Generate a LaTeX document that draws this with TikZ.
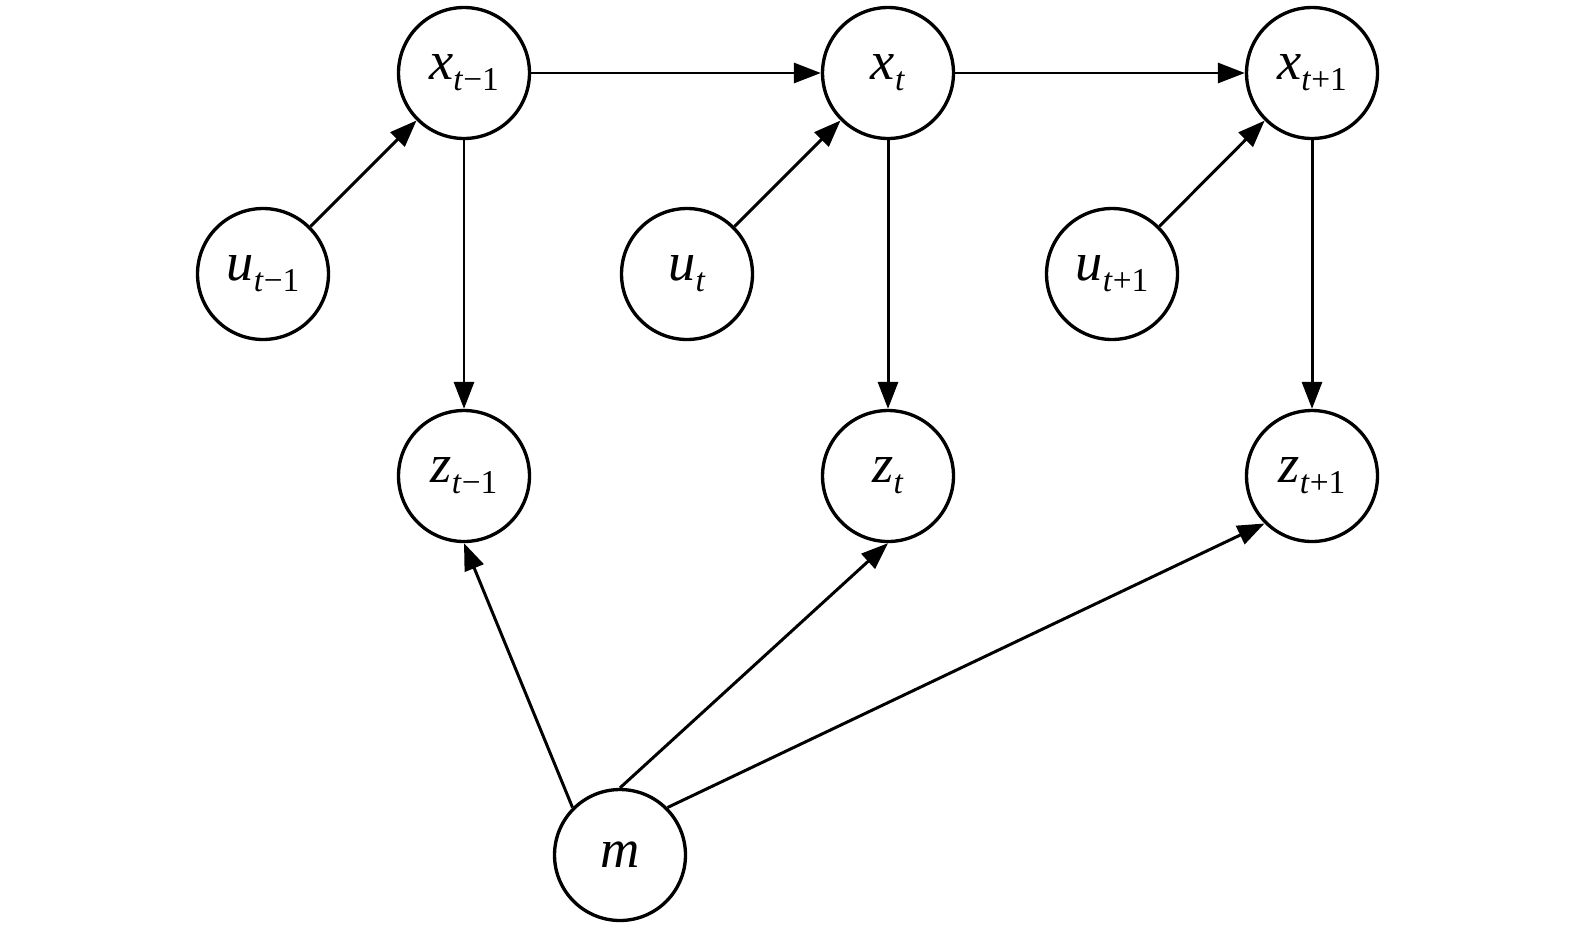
\documentclass[tikz,border=0pt]{standalone}
\usepackage{fontspec}
\setmainfont{Liberation Serif}
\usetikzlibrary{arrows.meta}

\newcommand{\nodevar}[2]{\textit{#1}\raisebox{-0.22cm}{\fontsize{19}{21}\selectfont\textit{t}#2}}

\begin{document}
\begin{tikzpicture}
            [x=0.02cm, y=-0.02cm,
            node/.style={circle, draw, minimum size=2.62cm, inner sep=0pt, line width=1.9pt, font=\fontsize{31}{33}\selectfont},
            edge/.style={line width=1.7pt, black, -{Triangle[length=0.54cm, width=0.4cm]}}]

            \useasboundingbox (0,0) rectangle (1575,927);

            \node[node] (x1) at (464,73) {\nodevar{x}{−1}};
            \node[node] (x2) at (888,73) {\nodevar{x}{}};
            \node[node] (x3) at (1312,73) {\nodevar{x}{+1}};
            \node[node] (u1) at (263,274) {\nodevar{u}{−1}};
            \node[node] (u2) at (687,274) {\nodevar{u}{}};
            \node[node] (u3) at (1112,274) {\nodevar{u}{+1}};
            \node[node] (z1) at (464,476) {\nodevar{z}{−1}};
            \node[node] (z2) at (888,476) {\nodevar{z}{}};
            \node[node] (z3) at (1312,476) {\nodevar{z}{+1}};
            \node[node] (m) at (620,855) {\textit{m}};

            % state chain
            \draw[edge] (x1) -- (x2);
            \draw[edge] (x2) -- (x3);

            % controls
            \draw[edge] (u1) -- (x1);
            \draw[edge] (u2) -- (x2);
            \draw[edge] (u3) -- (x3);

            % measurements
            \draw[edge] (x1) -- (z1);
            \draw[edge] (x2) -- (z2);
            \draw[edge] (x3) -- (z3);

            % map
            \draw[edge] (m.north west) -- (z1.south);
            \draw[edge] (m.north) -- (z2.south);
            \draw[edge] (m.north east) -- (z3.south west);

        \end{tikzpicture}
\end{document}
